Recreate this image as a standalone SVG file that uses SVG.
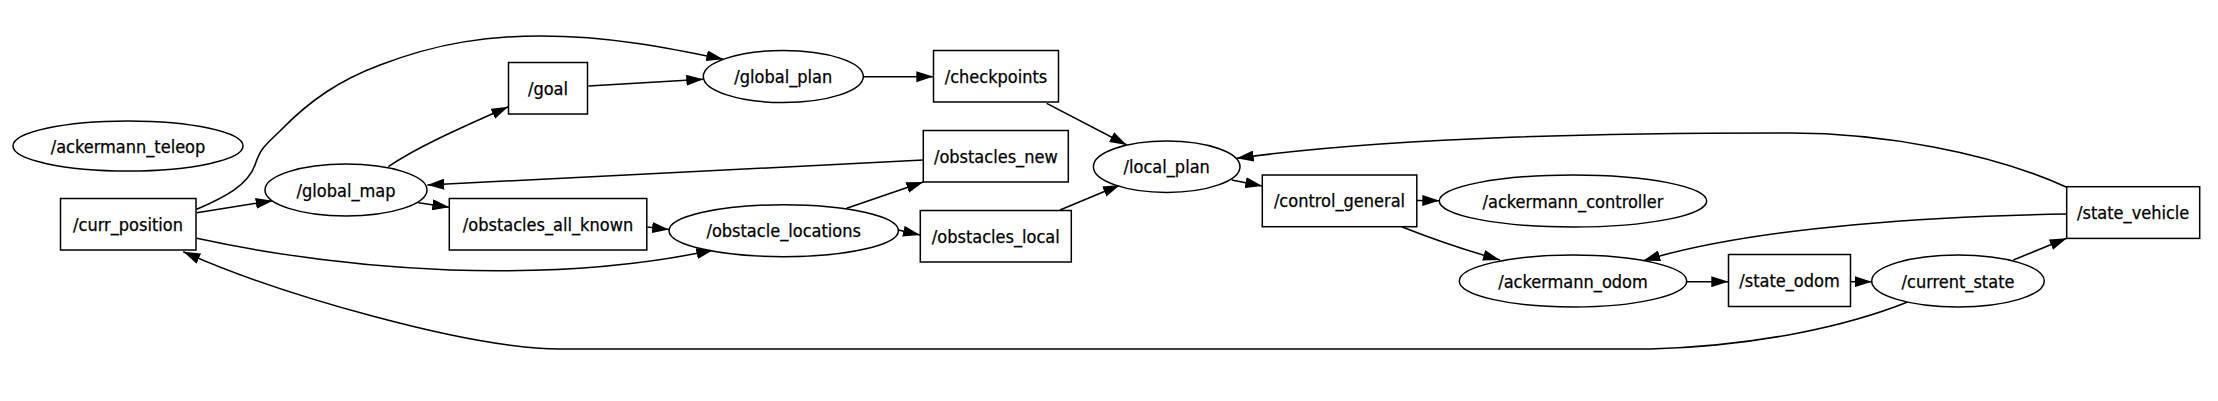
<svg xmlns="http://www.w3.org/2000/svg" width="2218" height="401" viewBox="0 0 2218 401">
<style>
.n{fill:#fff;stroke:#000;stroke-width:1.5}
.t{font-family:"DejaVu Sans Condensed","DejaVu Sans",sans-serif;font-stretch:condensed;font-size:18px;fill:#000;stroke:#000;stroke-width:0.25;text-anchor:middle}
.e{fill:none;stroke:#000;stroke-width:1.5;marker-end:url(#ah)}
</style>
<defs>
<marker id="ah" markerUnits="userSpaceOnUse" viewBox="0 0 17 11" markerWidth="17" markerHeight="11" refX="17" refY="5.5" orient="auto">
<path d="M0,0 L17,5.5 L0,11 z" fill="#000"/>
</marker>
</defs>
<rect width="2218" height="401" fill="#fff"/>
<g id="connectors">
<path class="e" d="M196.7,212.7 L272.7,200.7"/>
<path class="e" d="M196.7,209.3 C225,197 248,185 255,165 C260,150 262,148 280,131 C310,100 340,80 380,65 C440,42 490,36 540,36 C610,36 670,48 723.3,59.3"/>
<path class="e" d="M196.7,238.3 C260,252 350,266 450,270 C540,273 630,268 713.3,250"/>
<path class="e" d="M1908.3,301.7 C1850,325 1760,346 1650,349 L560,349 C470,349 280,295 183.3,251.7"/>
<path class="e" d="M388.3,166.7 C420,145 470,124 508.3,106.7"/>
<path class="e" d="M418.3,202.7 L449.3,207.3"/>
<path class="e" d="M588.3,86 L703.3,79.3"/>
<path class="e" d="M923.3,160 L427.3,185"/>
<path class="e" d="M647.3,227 L669,229.5"/>
<path class="e" d="M846.7,208.3 L923.3,182"/>
<path class="e" d="M898.3,230 L920,235"/>
<path class="e" d="M863.3,76.7 L933.3,76.7"/>
<path class="e" d="M1046.7,103.3 L1126.7,145"/>
<path class="e" d="M1060,210 L1120,185"/>
<path class="e" d="M2066.7,187.3 C1990,152 1880,133 1790,133 C1620,133 1400,136 1236.7,158.3"/>
<path class="e" d="M1231.7,180 L1262.3,186"/>
<path class="e" d="M1416.7,200.5 L1439.3,200.7"/>
<path class="e" d="M1401.7,226.7 C1430,238 1465,250 1500,260"/>
<path class="e" d="M2066.7,214 C1950,216 1760,225 1643.3,260.7"/>
<path class="e" d="M1686.7,281.7 L1728.3,281.7"/>
<path class="e" d="M1850.7,281.7 L1871.7,281.7"/>
<path class="e" d="M2013.3,260 L2066.7,238.3"/>
</g>
<g id="ackermann_teleop"><ellipse class="n" cx="128" cy="146" rx="115" ry="25"/><text class="t" x="128" y="152.5">/ackermann_teleop</text></g>
<g id="curr_position"><rect class="n" x="60.5" y="198.5" width="135.5" height="51.5"/><text class="t" x="128" y="230.7">/curr_position</text></g>
<g id="global_map"><ellipse class="n" cx="346" cy="190" rx="81" ry="26"/><text class="t" x="346" y="196.5">/global_map</text></g>
<g id="goal"><rect class="n" x="508.5" y="62.5" width="79" height="51.5"/><text class="t" x="548" y="94.8">/goal</text></g>
<g id="obstacles_all_known"><rect class="n" x="449.3" y="198.5" width="197.5" height="51.5"/><text class="t" x="548" y="230.7">/obstacles_all_known</text></g>
<g id="global_plan"><ellipse class="n" cx="783.3" cy="76.5" rx="80" ry="26"/><text class="t" x="783.3" y="83">/global_plan</text></g>
<g id="obstacle_locations"><ellipse class="n" cx="783.7" cy="230.7" rx="114.7" ry="26"/><text class="t" x="783.7" y="237.2">/obstacle_locations</text></g>
<g id="checkpoints"><rect class="n" x="933.5" y="50.5" width="125" height="51.5"/><text class="t" x="996" y="82.8">/checkpoints</text></g>
<g id="obstacles_new"><rect class="n" x="923.3" y="130.5" width="145" height="51.5"/><text class="t" x="995.8" y="162.8">/obstacles_new</text></g>
<g id="obstacles_local"><rect class="n" x="920.3" y="210.5" width="151" height="51.5"/><text class="t" x="995.8" y="242.8">/obstacles_local</text></g>
<g id="local_plan"><ellipse class="n" cx="1166.7" cy="166.7" rx="73.3" ry="25.7"/><text class="t" x="1166.7" y="173.2">/local_plan</text></g>
<g id="control_general"><rect class="n" x="1262.3" y="175" width="154.5" height="51.7"/><text class="t" x="1339.5" y="207.3">/control_general</text></g>
<g id="ackermann_controller"><ellipse class="n" cx="1573" cy="201" rx="133.7" ry="26"/><text class="t" x="1573" y="207.5">/ackermann_controller</text></g>
<g id="ackermann_odom"><ellipse class="n" cx="1573" cy="281" rx="113.7" ry="26"/><text class="t" x="1573" y="287.5">/ackermann_odom</text></g>
<g id="state_odom"><rect class="n" x="1728.5" y="254.5" width="122" height="52"/><text class="t" x="1789.5" y="287">/state_odom</text></g>
<g id="current_state"><ellipse class="n" cx="1958" cy="281" rx="86.3" ry="26"/><text class="t" x="1958" y="287.5">/current_state</text></g>
<g id="state_vehicle"><rect class="n" x="2066.7" y="186.7" width="133" height="51.7"/><text class="t" x="2133.2" y="219">/state_vehicle</text></g>
</svg>
